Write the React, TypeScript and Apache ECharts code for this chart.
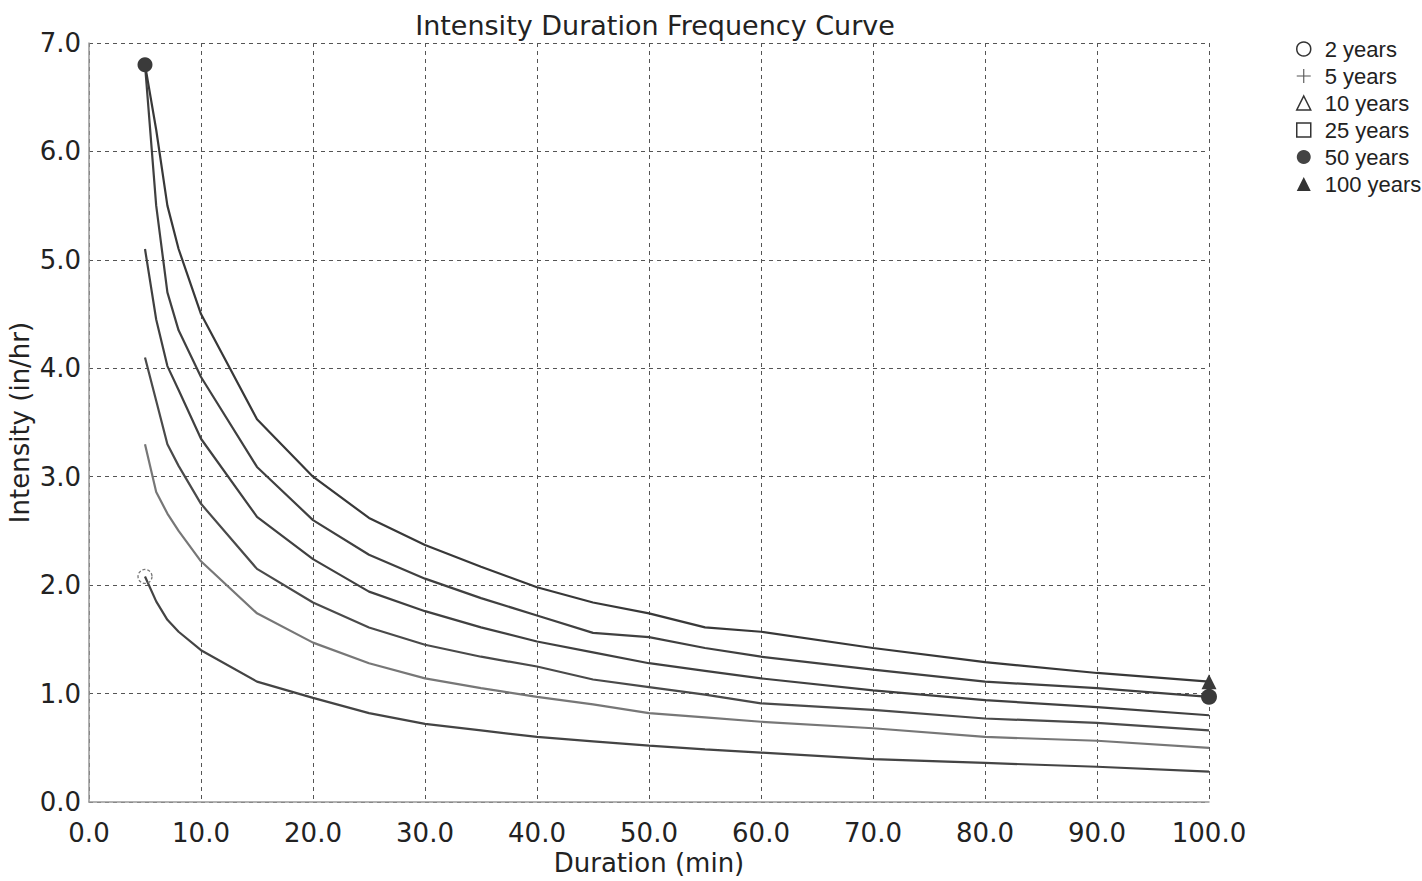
import React, { useEffect, useRef } from "react";
import * as echarts from "echarts";

const durations = [5, 6, 7, 8, 10, 15, 20, 25, 30, 35, 40, 45, 50, 55, 60, 70, 80, 90, 100];
const y100 = [6.8, 6.2, 5.5, 5.1, 4.5, 3.53, 3.0, 2.62, 2.37, 2.17, 1.98, 1.84, 1.74, 1.61, 1.57, 1.42, 1.29, 1.19, 1.11];
const y50 = [6.8, 5.5, 4.7, 4.35, 3.92, 3.09, 2.6, 2.28, 2.06, 1.88, 1.72, 1.56, 1.52, 1.42, 1.34, 1.22, 1.11, 1.05, 0.97];
const y25 = [5.1, 4.45, 4.02, 3.8, 3.35, 2.63, 2.24, 1.94, 1.76, 1.61, 1.48, 1.38, 1.28, 1.21, 1.14, 1.03, 0.94, 0.875, 0.8];
const y10 = [4.1, 3.7, 3.3, 3.1, 2.75, 2.15, 1.84, 1.61, 1.45, 1.34, 1.25, 1.13, 1.06, 0.99, 0.91, 0.85, 0.77, 0.73, 0.66];
const y5 = [3.3, 2.86, 2.66, 2.5, 2.22, 1.74, 1.47, 1.28, 1.14, 1.05, 0.97, 0.9, 0.82, 0.78, 0.74, 0.68, 0.6, 0.565, 0.5];
const y2 = [2.08, 1.85, 1.68, 1.57, 1.4, 1.11, 0.96, 0.82, 0.72, 0.66, 0.6, 0.56, 0.52, 0.485, 0.455, 0.395, 0.36, 0.325, 0.28];

const legendNames = ["2 years", "5 years", "10 years", "25 years", "50 years", "100 years"];

const FONT = "'DejaVu Sans', 'Liberation Sans', Arial, sans-serif";
const LFONT = "'Liberation Sans', Arial, sans-serif";
const PLUS = "path://M0,46 L100,46 L100,54 L0,54 Z M46,0 L54,0 L54,100 L46,100 Z";

export default function App() {
  const ref = useRef<HTMLDivElement>(null);
  useEffect(() => {
    if (!ref.current) return;
    const chart = echarts.init(ref.current, null, { renderer: "svg" });

    const mk = (ys: number[], marks: Record<number, any>) =>
      durations.map((d, i) => {
        const item: any = { value: [d, ys[i]] };
        if (marks[i]) Object.assign(item, marks[i]);
        return item;
      });

    const last = durations.length - 1;
    const series = [
      {
        name: legendNames[0],
        data: mk(y2, { 0: { symbol: "circle", symbolSize: 14, itemStyle: { color: "rgba(255,255,255,0)", borderColor: "#777", borderWidth: 1.3, borderType: [3, 2] } } }),
        color: "#444",
      },
      { name: legendNames[1], data: mk(y5, {}), color: "#777" },
      { name: legendNames[2], data: mk(y10, {}), color: "#4a4a4a" },
      { name: legendNames[3], data: mk(y25, {}), color: "#404040" },
      {
        name: legendNames[4],
        data: mk(y50, {
          0: { symbol: "circle", symbolSize: 15, itemStyle: { color: "#3a3a3a" } },
          [last]: { symbol: "circle", symbolSize: 16, itemStyle: { color: "#3a3a3a" } },
        }),
        color: "#404040",
      },
      {
        name: legendNames[5],
        data: mk(y100, { [last]: { symbol: "triangle", symbolSize: 15, itemStyle: { color: "#3a3a3a" } } }),
        color: "#383838",
      },
    ].map((s) => ({
      type: "line",
      name: s.name,
      data: s.data,
      symbol: "none",
      showSymbol: true,
      smooth: false,
      lineStyle: { color: s.color, width: 2.2 },
      itemStyle: { color: s.color },
      z: 3,
    }));

    const legendIcons: any[] = [
      { name: legendNames[0], icon: "circle", itemStyle: { color: "#fff", borderColor: "#333", borderWidth: 1.5 } },
      { name: legendNames[1], icon: PLUS, itemStyle: { color: "#555", borderWidth: 0 } },
      { name: legendNames[2], icon: "triangle", itemStyle: { color: "#fff", borderColor: "#333", borderWidth: 1.5 } },
      { name: legendNames[3], icon: "rect", itemStyle: { color: "#fff", borderColor: "#333", borderWidth: 1.5 } },
      { name: legendNames[4], icon: "circle", itemStyle: { color: "#444", borderWidth: 0 } },
      { name: legendNames[5], icon: "triangle", itemStyle: { color: "#333", borderWidth: 0 } },
    ];

    chart.setOption({
      animation: false,
      backgroundColor: "#fff",
      title: {
        text: "Intensity Duration Frequency Curve",
        left: 650,
        textAlign: "center",
        top: 7,
        textStyle: { fontFamily: FONT, fontSize: 27, fontWeight: "normal", color: "#222" },
      },
      legend: {
        orient: "vertical",
        left: 1291,
        top: 33,
        itemWidth: 14,
        itemHeight: 14,
        itemGap: 5,
        data: legendIcons.map((l) => ({ ...l, lineStyle: { opacity: 0 } })),
        textStyle: { fontFamily: LFONT, fontSize: 22, color: "#222", padding: [0, 0, 0, 9] },
        selectedMode: false,
      },
      grid: { left: 89, right: 213, top: 43, bottom: 79, show: false, containLabel: false, outerBoundsMode: "none" },
      xAxis: {
        type: "value",
        min: 0,
        max: 100,
        interval: 10,
        name: "Duration (min)",
        nameLocation: "middle",
        nameGap: 48,
        nameMoveOverlap: false,
        nameTextStyle: { fontFamily: FONT, fontSize: 26, color: "#222" },
        axisLine: { show: true, lineStyle: { color: "#999", width: 1.5 } },
        axisTick: { show: false },
        axisLabel: {
          fontFamily: FONT,
          fontSize: 26,
          color: "#222",
          margin: 18,
          formatter: (v: number) => v.toFixed(1),
        },
        splitLine: { show: true, lineStyle: { color: "#555", type: [4, 4], width: 1 } },
      },
      yAxis: {
        type: "value",
        min: 0,
        max: 7,
        interval: 1,
        name: "Intensity (in/hr)",
        nameLocation: "middle",
        nameGap: 56,
        nameMoveOverlap: false,
        nameTextStyle: { fontFamily: FONT, fontSize: 26, color: "#222" },
        axisLine: { show: true, lineStyle: { color: "#999", width: 1.5 } },
        axisTick: { show: false },
        axisLabel: {
          fontFamily: FONT,
          fontSize: 26,
          color: "#222",
          margin: 8,
          formatter: (v: number) => v.toFixed(1),
        },
        splitLine: { show: true, lineStyle: { color: "#555", type: [4, 4], width: 1 } },
      },
      series,
    });
    return () => chart.dispose();
  }, []);
  return <div ref={ref} style={{ position: "fixed", left: 0, top: 0, width: 1422, height: 881 }} />;
}
